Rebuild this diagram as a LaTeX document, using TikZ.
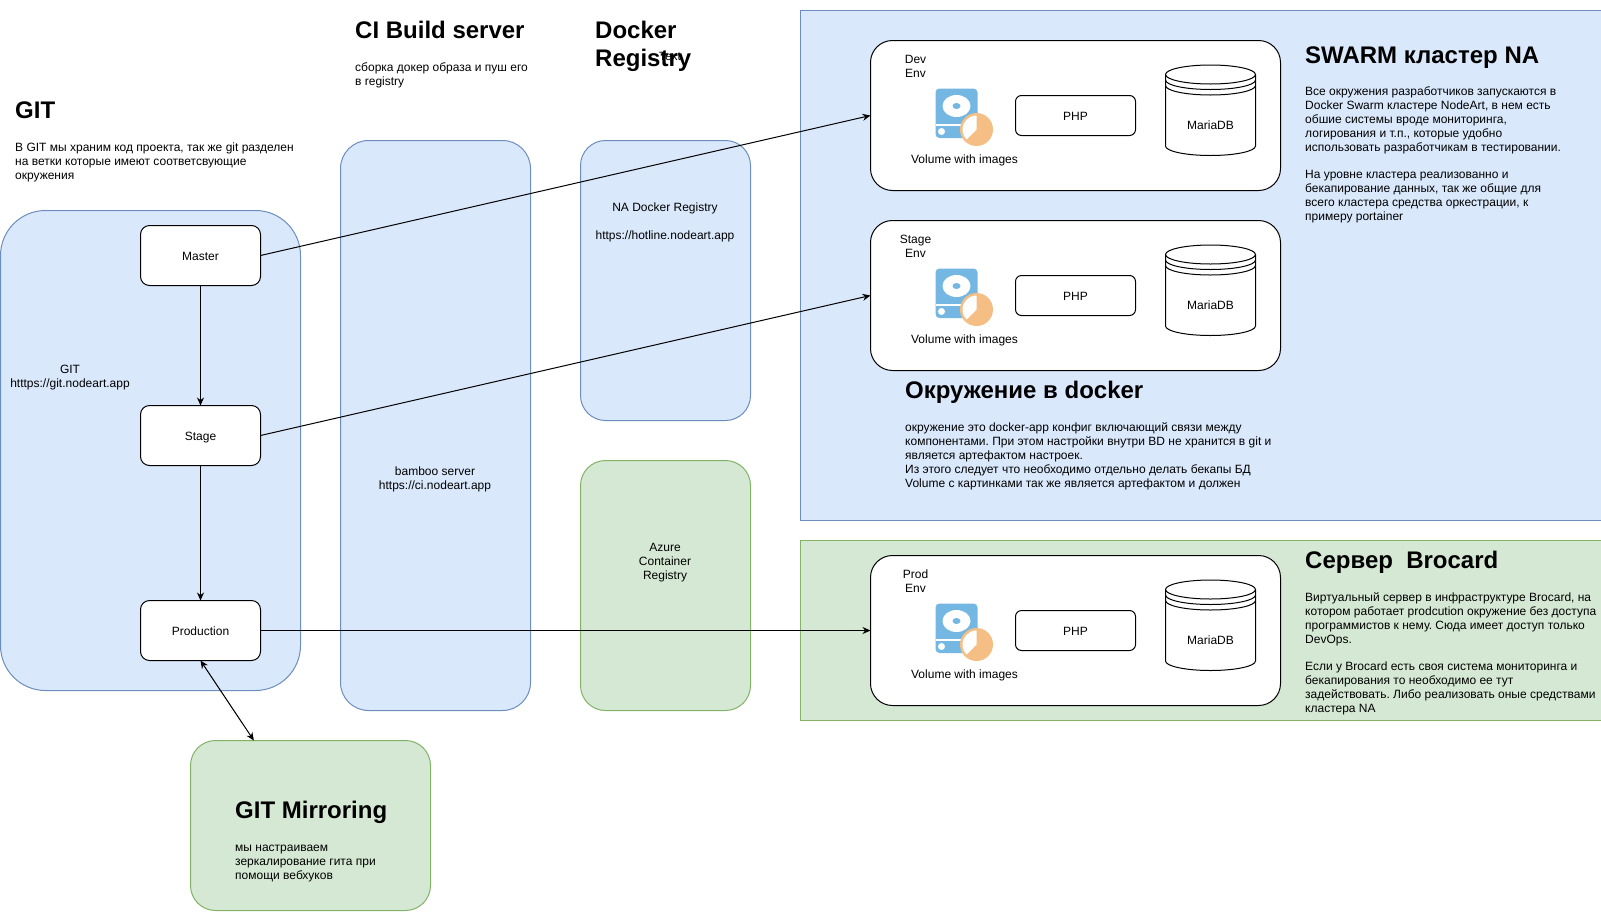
\documentclass[tikz,border=0pt]{standalone}
\usepackage{fontspec}
\setmainfont{Liberation Sans}
\usetikzlibrary{arrows.meta,calc}
\definecolor{bluef}{HTML}{DAE8FC}\definecolor{blues}{HTML}{6C8EBF}
\definecolor{greenf}{HTML}{D5E8D4}\definecolor{greens}{HTML}{82B366}
\definecolor{iconb}{HTML}{73B7E2}\definecolor{icono}{HTML}{F5BE85}
\newcommand{\lowered}[1]{\raisebox{-1pt}[8.6pt][0pt]{#1}}
\tikzset{
 bluebox/.style={draw=blues,fill=bluef,line width=1pt},
 greenbox/.style={draw=greens,fill=greenf,line width=1pt},
 whitebox/.style={draw=black,fill=white,line width=1pt,font=\fontsize{12}{14}\selectfont},
 sized/.style args={#1x#2}{minimum width=#1pt,minimum height=#2pt,inner sep=0pt,outer sep=0pt,anchor=north west},
 lbl/.style={inner sep=0pt,align=center,font=\fontsize{12}{14}\selectfont},
 txt/.style={inner sep=0pt,anchor=north west,align=left,font=\fontsize{12}{14}\selectfont},
 head/.style={inner sep=0pt,anchor=north west,align=left,font=\fontsize{24}{28}\selectfont\bfseries},
 link/.style={draw=black,line width=1pt,-{Stealth[length=8pt,width=7pt]}},
 dlink/.style={draw=black,line width=1pt,{Stealth[length=8pt,width=7pt]}-{Stealth[length=8pt,width=7pt]}},
}
\newcommand{\envgroup}[3]{%
 \begin{scope}[yshift=-#1pt]
 \node[whitebox,sized=410x150,rounded corners=22pt] (#2) at (870,-40) {};
 \node[lbl] (#2lab) at (915,-66) {#3\\Env};
 \fill[iconb,rounded corners=4pt] (935,-88) rectangle (977,-137.5);
 \fill[white] (956,-105.5) ellipse (14pt and 11pt);
 \fill[iconb] (956,-105.5) ellipse (4pt and 3pt);
 \fill[white] (935,-123.5) rectangle (977,-125);
 \fill[white] (941,-131) circle (3.5pt);
 \fill[icono] (976,-129) circle (16.5pt);
 \fill[white] (976,-129) -- (976,-115) arc (90:225:14pt) -- cycle;
 \node[lbl] (#2vol) at (964,-159.5) {Volume with images};
 \node[whitebox,sized=120x40,rounded corners=6pt] (#2php) at (1015,-95) {};
 \node[lbl] (#2phpl) at (1075,-115.5) {PHP};
 \path[whitebox] (1165,-74) arc (180:0:45pt and 9.5pt) -- (1255,-145.5) arc (0:-180:45pt and 9.5pt) -- cycle;
 \draw[line width=1pt] (1165,-74) arc (180:360:45pt and 9.5pt);
 \draw[line width=1pt] (1165,-79.5) arc (180:360:45pt and 9.5pt);
 \draw[line width=1pt] (1165,-85) arc (180:360:45pt and 9.5pt);
 \node[lbl] (#2db) at (1210,-125) {MariaDB};
 \end{scope}}
\begin{document}
\begin{tikzpicture}[x=1pt,y=1pt]
\useasboundingbox (0,0) rectangle (1601,-911);
\frenchspacing
\begin{scope}[shift={(0.5,-0.5)}]
\node[bluebox,sized=801x510] (swarm) at (800,-10) {};
\node[greenbox,sized=801x180] (brocard) at (800,-540) {};
\node[bluebox,sized=300x480,rounded corners=45pt] (git) at (0,-210) {};
\node[bluebox,sized=190x570,rounded corners=28pt] (ci) at (340,-140) {};
\node[bluebox,sized=170x280,rounded corners=25pt] (reg) at (580,-140) {};
\node[greenbox,sized=170x250,rounded corners=25pt] (azure) at (580,-460) {};
\node[greenbox,sized=240x170,rounded corners=25pt] (mirror) at (190,-740) {};
\node[whitebox,sized=120x60,rounded corners=9pt] (master) at (140,-225) {\lowered{Master}};
\node[whitebox,sized=120x60,rounded corners=9pt] (stage) at (140,-405) {\lowered{Stage}};
\node[whitebox,sized=120x60,rounded corners=9pt] (prod) at (140,-600) {\lowered{Production}};
\envgroup{0}{devenv}{Dev}
\envgroup{180}{stageenv}{Stage}
\envgroup{515}{prodenv}{Prod}
\coordinate (mirrortop) at ($(mirror.north west)!0.264!(mirror.north east)$);
\draw[link] (master) -- (stage);
\draw[link] (stage) -- (prod);
\draw[link] (master.east) -- (devenv.west);
\draw[link] (stage.east) -- (stageenv.west);
\draw[link] (prod.east) -- (prodenv.west);
\draw[dlink] (prod.south) -- (mirrortop);
\node[lbl] (gitl) at (69.5,-377) {GIT\\htttps://git.nodeart.app};
\node[lbl] (cil) at (434.5,-479) {bamboo server\\https://ci.nodeart.app};
\node[lbl] (regl) at (664.5,-222) {NA Docker Registry\\[14pt]https://hotline.nodeart.app};
\node[lbl] (azl) at (664.5,-562.5) {Azure\\Container\\Registry};
\node[lbl] (textl) at (669.5,-55.5) {Text};
\node[head] (h1) at (14.5,-101) {GIT};
\node[txt] (t1) at (14.5,-140.5) {\strut В GIT мы храним код проекта, так же git разделен\\на ветки которые имеют соответсвующие\\окружения};
\node[head] (h2) at (354.5,-20.7) {CI Build server};
\node[txt] (t2) at (354.5,-60.5) {\strut сборка докер образа и пуш его\\в registry};
\node[head] (h3) at (594.5,-20.7) {Docker\\Registry};
\node[head] (h4) at (1304.5,-46.5) {SWARM кластер NA};
\node[txt] (t4) at (1304.5,-84.5) {\strut Все окружения разработчиков запускаются в\\Docker Swarm кластере NodeArt, в нем есть\\обшие системы вроде мониторинга,\\логирования и т.п., которые удобно\\использовать разработчикам в тестировании.\\[13pt]На уровне кластера реализованно и\\бекапирование данных, так же общие для\\всего кластера средства оркестрации, к\\примеру portainer};
\node[head] (h5) at (904.5,-380) {Окружение в docker};
\node[txt] (t5) at (904.5,-420.5) {\strut окружение это docker-app конфиг включающий связи между\\компонентами. При этом настройки внутри BD не хранится в git и\\является артефактом настроек.\\Из этого следует что необходимо отдельно делать бекапы БД\\Volume с картинками так же является артефактом и должен};
\node[head] (h6) at (1304.5,-550) {Сервер\ \ Brocard};
\node[txt] (t6) at (1304.5,-590.5) {\strut Виртуальный сервер в инфраструктуре Brocard, на\\котором работает prodcution окружение без доступа\\программистов к нему. Сюда имеет доступ только\\DevOps.\\[13pt]Если у Brocard есть своя система мониторинга и\\бекапирования то необходимо ее тут\\задействовать. Либо реализовать оные средствами\\кластера NA};
\node[head] (h7) at (234.5,-800) {GIT Mirroring};
\node[txt] (t7) at (234.5,-840.5) {\strut мы настраиваем\\зеркалирование гита при\\помощи вебхуков};
\end{scope}
\end{tikzpicture}
\end{document}
